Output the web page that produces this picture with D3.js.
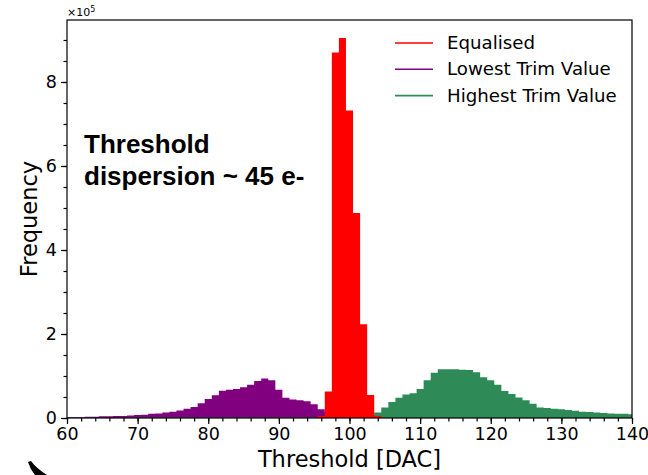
<!DOCTYPE html>
<html>
<head>
<meta charset="utf-8">
<script src="https://cdn.jsdelivr.net/npm/d3@7"></script>
<style>
body{margin:0;background:#fff;}
svg{display:block;}
text{font-family:"DejaVu Sans",sans-serif;fill:#000;}
</style>
</head>
<body>
<svg id="chart"></svg>
<script>
// bin centres in DAC (1 DAC wide bins)
var bins=d3.range(60,141);
// counts, in units of 1e5
var equalised=[0,0,0,0,0,0,0,0,0,0,
  0,0,0,0,0,0,0,0,0,0,
  0,0,0,0,0,0,0,0,0,0,
  0,0,0,0,0,0,0.05,0.63,8.70,9.05,
  7.32,4.88,2.23,0.55,0.05,0,0,0,0,0,
  0,0,0,0,0,0,0,0,0,0,
  0,0,0,0,0,0,0,0,0,0,
  0,0,0,0,0,0,0,0,0,0,0];
var lowestTrim=[0.02,0.02,0.02,0.03,0.03,0.04,0.04,0.05,0.05,0.06,
  0.07,0.08,0.10,0.11,0.13,0.15,0.18,0.22,0.26,0.35,
  0.45,0.54,0.65,0.67,0.69,0.73,0.79,0.88,0.94,0.90,
  0.67,0.48,0.44,0.42,0.40,0.33,0.21,0.13,0.10,0.07,
  0.05,0.04,0.03,0.02,0.02,0.015,0.01,0.01,0.01,0.01,
  0.01,0.01,0.01,0.01,0.01,0.01,0.01,0.01,0.01,0.01,
  0.01,0.01,0.01,0.01,0.01,0.01,0.01,0.01,0.01,0.01,
  0.01,0.01,0.01,0.01,0.01,0.01,0.01,0.01,0.01,0.01,0.01];
var highestTrim=[0.005,0.005,0.005,0.005,0.005,0.005,0.005,0.005,0.005,0.01,
  0.01,0.01,0.01,0.01,0.01,0.01,0.01,0.01,0.01,0.01,
  0.01,0.01,0.01,0.01,0.01,0.01,0.01,0.01,0.01,0.01,
  0.01,0.01,0.01,0.01,0.01,0.01,0.01,0.02,0.02,0.03,
  0.03,0.04,0.05,0.08,0.13,0.25,0.38,0.48,0.56,0.59,
  0.69,0.90,1.08,1.16,1.16,1.16,1.15,1.14,1.09,0.97,
  0.90,0.79,0.64,0.57,0.49,0.42,0.34,0.25,0.24,0.22,
  0.21,0.19,0.17,0.15,0.14,0.13,0.12,0.11,0.10,0.10,0.09];
var seriesNames=["Equalised","Lowest Trim Value","Highest Trim Value"];
var seriesColors=["#ff0000","#800080","#2e8b57"];
var xTicks=[60,70,80,90,100,110,120,130,140];
var yTicks=[0,2,4,6,8];

var W=648,H=475;
var margin={left:67,right:16,top:20,bottom:57};
var svg=d3.select("#chart").attr("width",W).attr("height",H);

var xScale=d3.scaleLinear().domain([60,140]).range([margin.left,W-margin.right]);
var yScale=d3.scaleLinear().domain([0,9.476]).range([H-margin.bottom,margin.top]);

svg.append("clipPath").attr("id","plotclip")
   .append("rect")
   .attr("x",margin.left).attr("y",margin.top)
   .attr("width",W-margin.left-margin.right)
   .attr("height",H-margin.top-margin.bottom);

// step outline from bin edges
var area=d3.area()
  .x(function(d){return xScale(d[0]);})
  .y0(yScale(0))
  .y1(function(d){return yScale(d[1]);})
  .curve(d3.curveStepAfter);
function edges(vals){
  var pts=bins.map(function(b,i){return [b-0.5,vals[i]];});
  pts.push([bins[bins.length-1]+0.5,vals[vals.length-1]]);
  return pts;
}
var g=svg.append("g").attr("clip-path","url(#plotclip)");
[[lowestTrim,seriesColors[1]],[highestTrim,seriesColors[2]],[equalised,seriesColors[0]]]
  .forEach(function(s){
    g.append("path")
     .attr("d",area(edges(s[0])))
     .attr("fill",s[1]);
  });

// minor ticks
var xMinor=svg.append("g")
  .attr("transform","translate(0,"+yScale(0)+")")
  .call(d3.axisBottom(xScale).tickValues(d3.range(60,141,2)).tickSize(3.5).tickFormat(""));
xMinor.select(".domain").remove();
var yMinor=svg.append("g")
  .attr("transform","translate("+margin.left+",0)")
  .call(d3.axisLeft(yScale).tickValues(d3.range(0,9.4,0.5)).tickSize(3.5).tickFormat(""));
yMinor.select(".domain").remove();

var xAxis=svg.append("g")
  .attr("transform","translate(0,"+yScale(0)+")")
  .call(d3.axisBottom(xScale).tickValues(xTicks).tickSize(6).tickPadding(4));
var yAxis=svg.append("g")
  .attr("transform","translate("+margin.left+",0)")
  .call(d3.axisLeft(yScale).tickValues(yTicks).tickSize(6).tickPadding(4));
[xAxis,yAxis,xMinor,yMinor].forEach(function(a){
  a.selectAll("line").attr("stroke","#000").attr("stroke-width",1.2);
  a.selectAll("text").style("font-family","DejaVu Sans").style("font-size","17.5px").attr("fill","#000");
  a.select(".domain").remove();
});

// frame
svg.append("rect")
   .attr("x",margin.left).attr("y",margin.top)
   .attr("width",W-margin.left-margin.right)
   .attr("height",H-margin.top-margin.bottom)
   .attr("fill","none").attr("stroke","#000").attr("stroke-width",1.2);

// axis titles
svg.append("text")
   .attr("x",(margin.left+W-margin.right)/2).attr("y",467)
   .attr("text-anchor","middle").style("font-size","22.5px")
   .text("Threshold [DAC]");
svg.append("text")
   .attr("transform","translate(37,"+((margin.top+H-margin.bottom)/2)+") rotate(-90)")
   .attr("text-anchor","middle").style("font-size","22.5px")
   .text("Frequency");

// offset label
var off=svg.append("text").attr("x",67).attr("y",16).style("font-size","11px");
off.append("tspan").text("\u00d710");
off.append("tspan").attr("dy",-4).style("font-size","8px").text("5");

// legend
var leg=svg.append("g");
seriesNames.forEach(function(n,i){
  var y=43+i*26.3;
  leg.append("line").attr("x1",395).attr("x2",433).attr("y1",y).attr("y2",y)
     .attr("stroke",seriesColors[i]).attr("stroke-width",1.6);
  leg.append("text").attr("x",447).attr("y",y+6).style("font-size","18.2px").text(n);
});

// annotation
var ann=svg.append("text").style("font-family","Liberation Sans, Arial, sans-serif")
   .style("font-weight","bold").style("font-size","26px");
ann.append("tspan").attr("x",84).attr("y",153).text("Threshold");
ann.append("tspan").attr("x",84).attr("y",185).text("dispersion ~ 45 e-");

// stray mark at lower left of the source image
svg.append("path")
   .attr("d","M28,462 L31,461 Q36,468 47,475 L35,475 Q30,469 28,462 Z")
   .attr("fill","#000");
</script>
</body>
</html>
